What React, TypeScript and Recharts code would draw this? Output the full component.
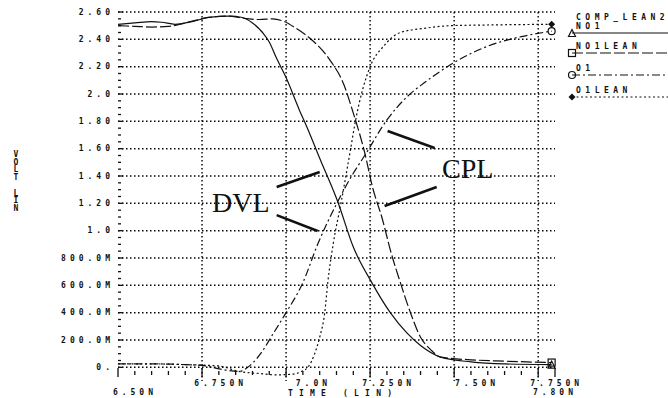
import React from 'react';
import { LineChart, Line, XAxis, YAxis, ReferenceLine, CartesianGrid } from 'recharts';

// simulated transient: time in ns, voltage in V
const no1 = [
  [6.5, 2.51], [6.55, 2.52], [6.6, 2.53], [6.63, 2.525], [6.67, 2.51], [6.72, 2.53],
  [6.77, 2.56], [6.83, 2.57], [6.87, 2.56], [6.9, 2.52], [6.93, 2.45], [6.95, 2.38],
  [6.97, 2.27], [7.0, 2.12], [7.04, 1.88], [7.06, 1.77], [7.1, 1.53], [7.154, 1.21],
  [7.2, 0.88], [7.255, 0.62], [7.31, 0.4], [7.36, 0.25], [7.4, 0.16], [7.46, 0.075],
  [7.55, 0.04], [7.65, 0.025], [7.79, 0.02],
].map(([t, v]) => ({ t, v }));

const no1Lean = [
  [6.5, 2.5], [6.55, 2.495], [6.6, 2.49], [6.65, 2.495], [6.7, 2.52], [6.77, 2.56],
  [6.83, 2.57], [6.87, 2.555], [6.92, 2.545], [6.96, 2.55], [6.99, 2.535], [7.03, 2.48],
  [7.07, 2.41], [7.13, 2.25], [7.17, 2.08], [7.2, 1.86], [7.234, 1.57], [7.257, 1.32],
  [7.287, 1.08], [7.31, 0.86], [7.34, 0.62], [7.37, 0.4], [7.4, 0.22], [7.43, 0.13],
  [7.46, 0.075], [7.55, 0.055], [7.65, 0.045], [7.79, 0.035],
].map(([t, v]) => ({ t, v }));

const o1 = [
  [6.5, 0.025], [6.6, 0.025], [6.7, 0.02], [6.76, 0.01], [6.82, -0.02], [6.86, -0.03],
  [6.88, -0.01], [6.9, 0.03], [6.93, 0.12], [6.96, 0.24], [7.0, 0.4], [7.05, 0.62],
  [7.094, 0.9], [7.153, 1.21], [7.2, 1.42], [7.234, 1.55], [7.3, 1.81], [7.36, 1.98],
  [7.41, 2.08], [7.5, 2.23], [7.6, 2.35], [7.7, 2.42], [7.79, 2.46],
].map(([t, v]) => ({ t, v }));

const o1Lean = [
  [6.5, 0.025], [6.6, 0.025], [6.7, 0.02], [6.8, 0.01], [6.86, -0.03], [6.92, -0.045],
  [6.97, -0.055], [7.02, -0.05], [7.05, -0.025], [7.065, 0.0], [7.085, 0.1], [7.1, 0.22],
  [7.115, 0.4], [7.124, 0.62], [7.14, 0.9], [7.164, 1.21], [7.19, 1.57], [7.207, 1.81],
  [7.25, 2.2], [7.29, 2.35], [7.34, 2.45], [7.41, 2.48], [7.49, 2.5], [7.6, 2.505],
  [7.79, 2.51],
].map(([t, v]) => ({ t, v }));

const yGrid = [0, 0.2, 0.4, 0.6, 0.8, 1.0, 1.2, 1.4, 1.6, 1.8, 2.0, 2.2, 2.4, 2.6];
const yLabels = ['0.', '200.0M', '400.0M', '600.0M', '800.0M', '1.0', '1.20', '1.40', '1.60', '1.80', '2.0', '2.20', '2.40', '2.60'];
const xGrid = [6.75, 7.0, 7.25, 7.5, 7.75];
const xLabelValues = [6.5, 6.75, 7.0, 7.25, 7.5, 7.75, 7.8];
const xLabels = ['6.50N', '6.750N', '7.0N', '7.250N', '7.50N', '7.750N', '7.80N'];
const yTicks = Array.from({ length: 53 }, (_, i) => +(i * 0.05).toFixed(2));
const xTicks = Array.from({ length: 27 }, (_, i) => +(6.5 + i * 0.05).toFixed(2));

// annotation pointers (data coords)
const pointers = [
  [[6.972, 1.319], [7.1, 1.429]],
  [[6.972, 1.114], [7.094, 0.997]],
  [[7.302, 1.729], [7.442, 1.605]],
  [[7.293, 1.18], [7.448, 1.319]],
];

const INK = '#111';
const MONO = '"DejaVu Sans Mono", monospace';
const W = 668;
const H = 398;
const M = { top: 12, right: 103, bottom: 0, left: 58 };
const YL_W = 60;
const YR_W = 10;
const PLOT_W = W - M.left - M.right - YL_W - YR_W;
const DOT = '1.5 2.5';

const near = (a: number, b: number) => Math.abs(a - b) < 1e-6;

const hGrid = (p: any) => {
  const yAxis = p && p.yAxis;
  if (!yAxis || typeof yAxis.scale !== 'function') return [];
  return yGrid.map((v) => yAxis.scale(v));
};

const YTick = (props: any) => {
  const { x, y, payload } = props;
  const v = payload.value;
  const idx = yGrid.findIndex((g) => near(g, v));
  const major = idx >= 0;
  return (
    <g>
      {major && (
        <line x1={x} x2={x + PLOT_W} y1={y} y2={y} stroke="#000" strokeWidth={1.5} strokeDasharray={DOT} />
      )}
      <line x1={x} x2={x + (major ? 5 : 3)} y1={y} y2={y} stroke={INK} strokeWidth={1.3} />
      {major && (
        <text x={x - 4} y={y} dy={2.8} textAnchor="end" fontFamily={MONO} fontWeight={700}
          fontSize={8} letterSpacing={4} fill={INK}>{yLabels[idx]}</text>
      )}
    </g>
  );
};

const RTick = (props: any) => {
  const { x, y, payload } = props;
  const major = yGrid.some((g) => near(g, payload.value));
  return <line x1={x} x2={x - (major ? 8 : 3)} y1={y} y2={y} stroke={INK} strokeWidth={1.3} />;
};

const XTick = (props: any) => {
  const { x, y, payload } = props;
  const v = payload.value;
  const major = xGrid.some((g) => near(g, v)) || near(v, 6.5) || near(v, 7.8);
  const li = xLabelValues.findIndex((g) => near(g, v));
  const lower = near(v, 6.5) || near(v, 7.8);
  const off = near(v, 6.5) ? 39 : near(v, 7.8) ? 22 : 45;
  return (
    <g>
      <line x1={x} x2={x} y1={y - (major ? 13 : 10)} y2={y - (major ? 4 : 6)} stroke={INK} strokeWidth={1.3} />
      {li >= 0 && (
        <text x={x + off} y={lower ? y + 14 : y + 5} textAnchor="end" fontFamily={MONO} fontWeight={700}
          fontSize={8} letterSpacing={4} fill={INK}>{xLabels[li]}</text>
      )}
    </g>
  );
};

const endMarker = (shape: string, last: number) => (props: any) => {
  const { cx, cy, index } = props;
  if (index !== last) return <g key={index} />;
  const s = 3.5;
  if (shape === 'tri')
    return <polygon key={index} points={`${cx - s},${cy + s} ${cx + s},${cy + s} ${cx},${cy - s}`} fill="none" stroke={INK} strokeWidth={1.2} />;
  if (shape === 'sq')
    return <rect key={index} x={cx - s} y={cy - s} width={2 * s} height={2 * s} fill="none" stroke={INK} strokeWidth={1.2} />;
  if (shape === 'circ')
    return <circle key={index} cx={cx} cy={cy} r={s} fill="none" stroke={INK} strokeWidth={1.2} />;
  return <polygon key={index} points={`${cx - s},${cy} ${cx},${cy - s} ${cx + s},${cy} ${cx},${cy + s}`} fill={INK} />;
};

const series = [
  { name: 'NO1', data: no1, dash: undefined, marker: 'tri' },
  { name: 'NO1LEAN', data: no1Lean, dash: '11 3', marker: 'sq' },
  { name: 'O1', data: o1, dash: '8 3 2 3', marker: 'circ' },
  { name: 'O1LEAN', data: o1Lean, dash: '2 2.5', marker: 'dia' },
];

const legendRows = [33, 53, 75, 97];

export default function App() {
  return (
    <div style={{ position: 'absolute', left: 0, top: 0, width: W, height: H, background: '#fff' }}>
      <LineChart width={W} height={H} margin={M}>
        <CartesianGrid verticalValues={xGrid} horizontalCoordinatesGenerator={hGrid} stroke="#000"
          strokeDasharray={DOT} strokeWidth={1.4} />
        <XAxis dataKey="t" type="number" domain={[6.5, 7.8]} ticks={xTicks} interval={0}
          height={17} axisLine={false} tickLine={false} tickSize={0} tickMargin={0} tick={<XTick />}
          allowDuplicatedCategory={false} />
        <YAxis type="number" domain={[-0.1, 2.6]} ticks={yTicks} interval={0} width={YL_W}
          axisLine={false} tickLine={false} tickSize={0} tickMargin={0} tick={<YTick />} />
        <YAxis yAxisId="r" orientation="right" type="number" domain={[-0.1, 2.6]} ticks={yTicks}
          interval={0} width={YR_W} axisLine={false} tickLine={false} tickSize={0} tickMargin={0} tick={<RTick />} />
        {pointers.map((p, i) => (
          <ReferenceLine key={'p' + i} segment={[{ x: p[0][0], y: p[0][1] }, { x: p[1][0], y: p[1][1] }]} stroke={INK} strokeWidth={2.6} />
        ))}
        {series.map((s) => (
          <Line key={s.name} data={s.data} dataKey="v" type="monotone" stroke={INK} strokeWidth={1.2}
            strokeDasharray={s.dash} dot={endMarker(s.marker, s.data.length - 1)} activeDot={false}
            isAnimationActive={false} />
        ))}
      </LineChart>
      <svg width={W} height={H} style={{ position: 'absolute', left: 0, top: 0, pointerEvents: 'none' }}>
        <text x={212} y={212} fontFamily='"Liberation Serif", serif' fontSize={28} fill={INK}>DVL</text>
        <text x={442} y={178} fontFamily='"Liberation Serif", serif' fontSize={28} fill={INK}>CPL</text>
        {['V', 'O', 'L', 'T', '', 'L', 'I', 'N'].map((c, i) => (
          <text key={i} x={16} y={157 + i * 7.7} textAnchor="middle" fontFamily={MONO} fontWeight={700} fontSize={8} fill={INK}>{c}</text>
        ))}
        <text x={288} y={396} fontFamily={MONO} fontWeight={700} fontSize={8} letterSpacing={6.2} fill={INK}>TIME (LIN)</text>
        <text x={576} y={19.5} fontFamily={MONO} fontWeight={700} fontSize={8} letterSpacing={4.5} fill={INK}>COMP_LEAN2</text>
        {series.map((s, i) => {
          const y = legendRows[i];
          const m = endMarker(s.marker, 0)({ cx: 572, cy: y, index: 0 });
          return (
            <g key={s.name}>
              <text x={576} y={y - 4} fontFamily={MONO} fontWeight={700} fontSize={8} letterSpacing={4.5} fill={INK}>{s.name}</text>
              <line x1={572} x2={668} y1={y} y2={y} stroke={INK} strokeWidth={1.2} strokeDasharray={s.dash} />
              {m}
            </g>
          );
        })}
      </svg>
    </div>
  );
}
